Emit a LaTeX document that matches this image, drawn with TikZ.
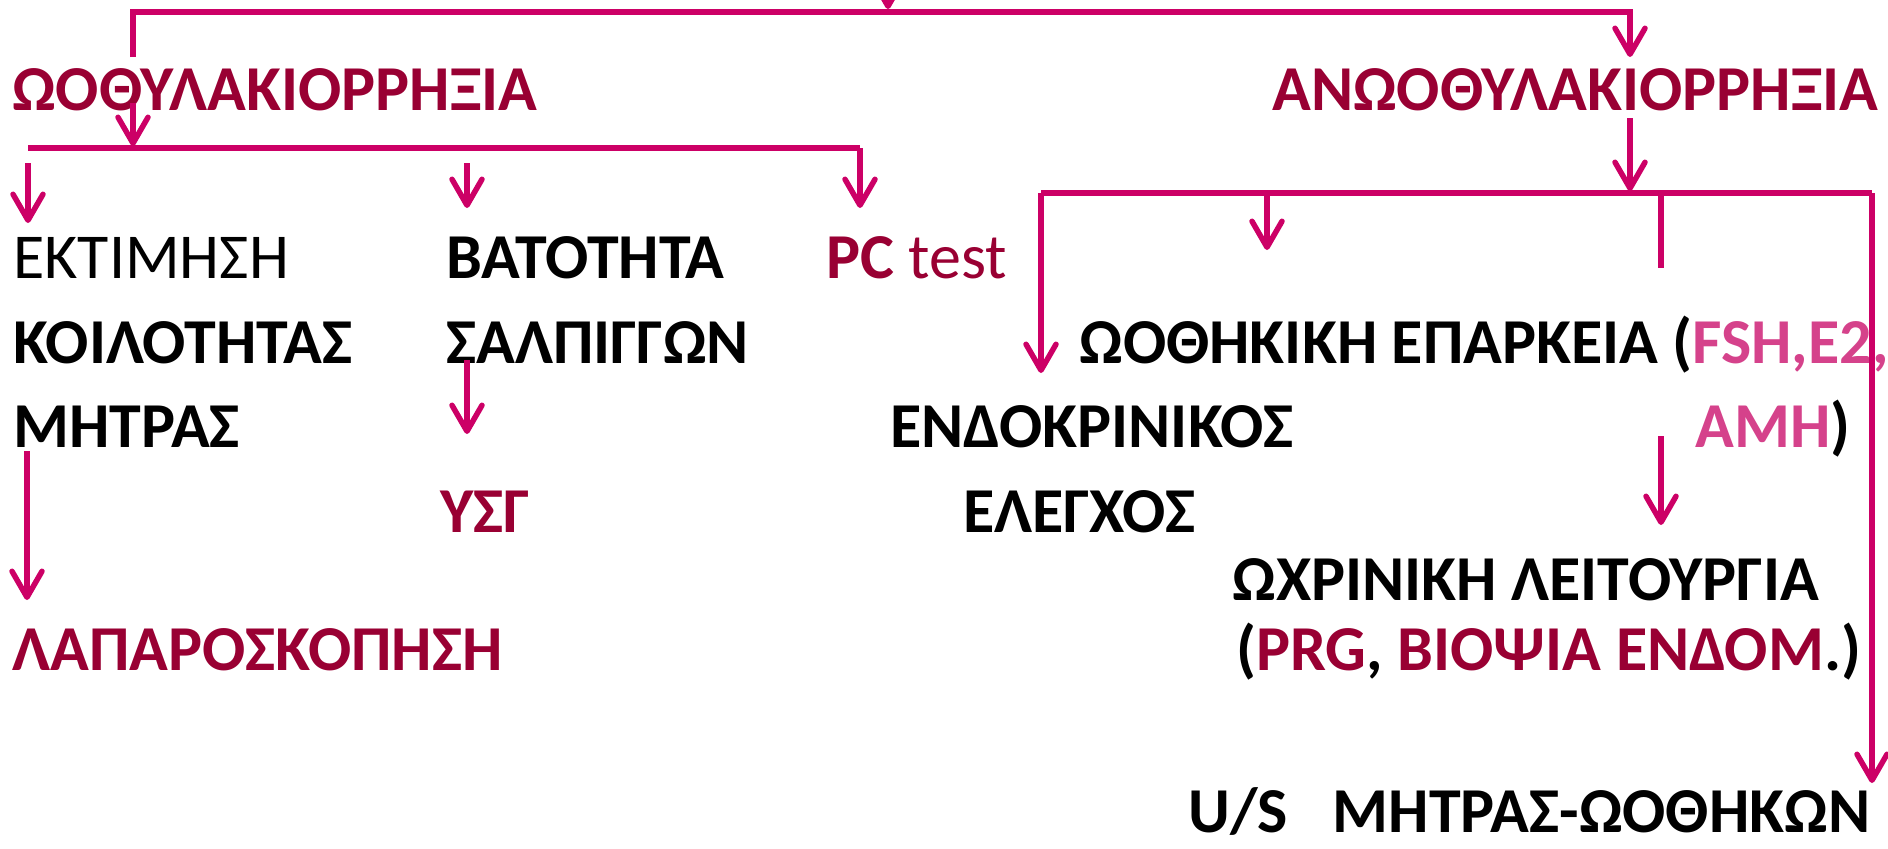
\documentclass[tikz,border=0pt]{standalone}
\usepackage{fontspec}
\setmainfont{Carlito}
\usetikzlibrary{arrows.meta,positioning}
\definecolor{linkcol}{HTML}{CC0066}
\definecolor{headcol}{HTML}{990033}
\definecolor{hormcol}{HTML}{D5428B}
\tikzset{
  lbl/.style={anchor=base west,inner sep=0pt,font=\fontsize{32}{38}\selectfont\bfseries},
  thin lbl/.style={lbl,font=\fontsize{32}{38}\selectfont},
  link/.style={draw=linkcol,line width=2.75pt},
  arr/.style={link,-{Straight Barb[length=13pt,width=15pt,round]}},
}
\begin{document}
\begin{tikzpicture}[x=0.5pt,y=-0.5pt]
\useasboundingbox (0,0) rectangle (1888,848);
\clip (0,0) rectangle (1888,848);
% bus lines and their end points
\coordinate (topL) at (133,12);
\coordinate (topM) at (888,12);
\coordinate (topR) at (1630,12);
\coordinate (ovL) at (28,148);
\coordinate (ovJ) at (133,148);
\coordinate (ovR) at (860,148);
\coordinate (anL) at (1041,193);
\coordinate (anJ) at (1630,193);
\coordinate (anM) at (1267,193);
\coordinate (anS) at (1661,193);
\coordinate (anR) at (1872,193);
%% Labels
\node[lbl,text=headcol] (ovu) at (12,110) {ΩΟΘΥΛΑΚΙΟΡΡΗΞΙΑ};
\node[lbl,text=headcol] (anov) at (1272,110) {ΑΝΩΟΘΥΛΑΚΙΟΡΡΗΞΙΑ};
\node[thin lbl] (est) at (13,278) {ΕΚΤΙΜΗΣΗ};
\node[lbl] (vat) at (446,278) {ΒΑΤΟΤΗΤΑ};
\node[thin lbl,text=headcol] (pc) at (826,278) {\textbf{PC} test};
\node[lbl] (koil) at (13,363) {ΚΟΙΛΟΤΗΤΑΣ};
\node[lbl] (salp) at (446,363) {ΣΑΛΠΙΓΓΩΝ};
\node[lbl] (oeep) at (1079,363) {ΩΟΘΗΚΙΚΗ ΕΠΑΡΚΕΙΑ (\textcolor{hormcol}{FSH,E2,}};
\node[lbl] (mitr) at (13,447) {ΜΗΤΡΑΣ};
\node[lbl] (endo) at (890,447) {ΕΝΔΟΚΡΙΝΙΚΟΣ};
\node[lbl] (amh) at (1695,447) {\textcolor{hormcol}{ΑΜΗ})};
\node[lbl,text=headcol] (ysg) at (440,532) {ΥΣΓ};
\node[lbl] (eleg) at (963,532) {ΕΛΕΓΧΟΣ};
\node[lbl] (ochr) at (1232,600) {ΩΧΡΙΝΙΚΗ ΛΕΙΤΟΥΡΓΙΑ};
\node[lbl] (prg) at (1236,670) {(\textcolor{headcol}{PRG}, \textcolor{headcol}{ΒΙΟΨΙΑ ΕΝΔΟΜ}.)};
\node[lbl,text=headcol] (lap) at (12,670) {ΛΑΠΑΡΟΣΚΟΠΗΣΗ};
\node[lbl] (us) at (1188,832) {U/S\hspace{0.7em}ΜΗΤΡΑΣ-ΩΟΘΗΚΩΝ};
% arrow tips
\coordinate (ovuIn) at (133,57);
\coordinate (anovIn) at (1630,57);
\coordinate (ovuOut) at (133,103);
\coordinate (estIn) at (28,223);
\coordinate (estTop) at (28,163);
\coordinate (vatIn) at (467,208);
\coordinate (vatTop) at (467,163);
\coordinate (pcIn) at (860,208);
\coordinate (salpOut) at (467,360);
\coordinate (ysgIn) at (467,434);
\coordinate (mitrOut) at (27,451);
\coordinate (lapIn) at (27,600);
\coordinate (anovOut) at (1630,118);
\coordinate (endoIn) at (1041,373);
\coordinate (oeepIn) at (1267,250);
\coordinate (stubEnd) at (1661,268);
\coordinate (amhOut) at (1661,436);
\coordinate (ochrIn) at (1661,525);
\coordinate (usIn) at (1872,783);
%% Connectors
\draw[arr] (888,-40) -- ([yshift=1.5pt]topM);
\draw[arr] (ovuIn) -- (topL) -- (topR) -- (anovIn);
\draw[arr,-] (ovL) -- (ovR);
\draw[arr] (ovR) -- (pcIn);
\draw[arr] (ovuOut) -- ([yshift=1pt]ovJ);
\draw[arr] (estTop) -- (estIn);
\draw[arr] (vatTop) -- (vatIn);
\draw[arr] (salpOut) -- (ysgIn);
\draw[arr] (mitrOut) -- (lapIn);
\draw[arr] (anovOut) -- ([yshift=1pt]anJ);
\draw[arr,-] (anL) -- (anR);
\draw[arr] (anL) -- (endoIn);
\draw[arr] (anR) -- (usIn);
\draw[arr] (anM) -- (oeepIn);
\draw[link] (anS) -- (stubEnd);
\draw[arr] (amhOut) -- (ochrIn);
\end{tikzpicture}
\end{document}
